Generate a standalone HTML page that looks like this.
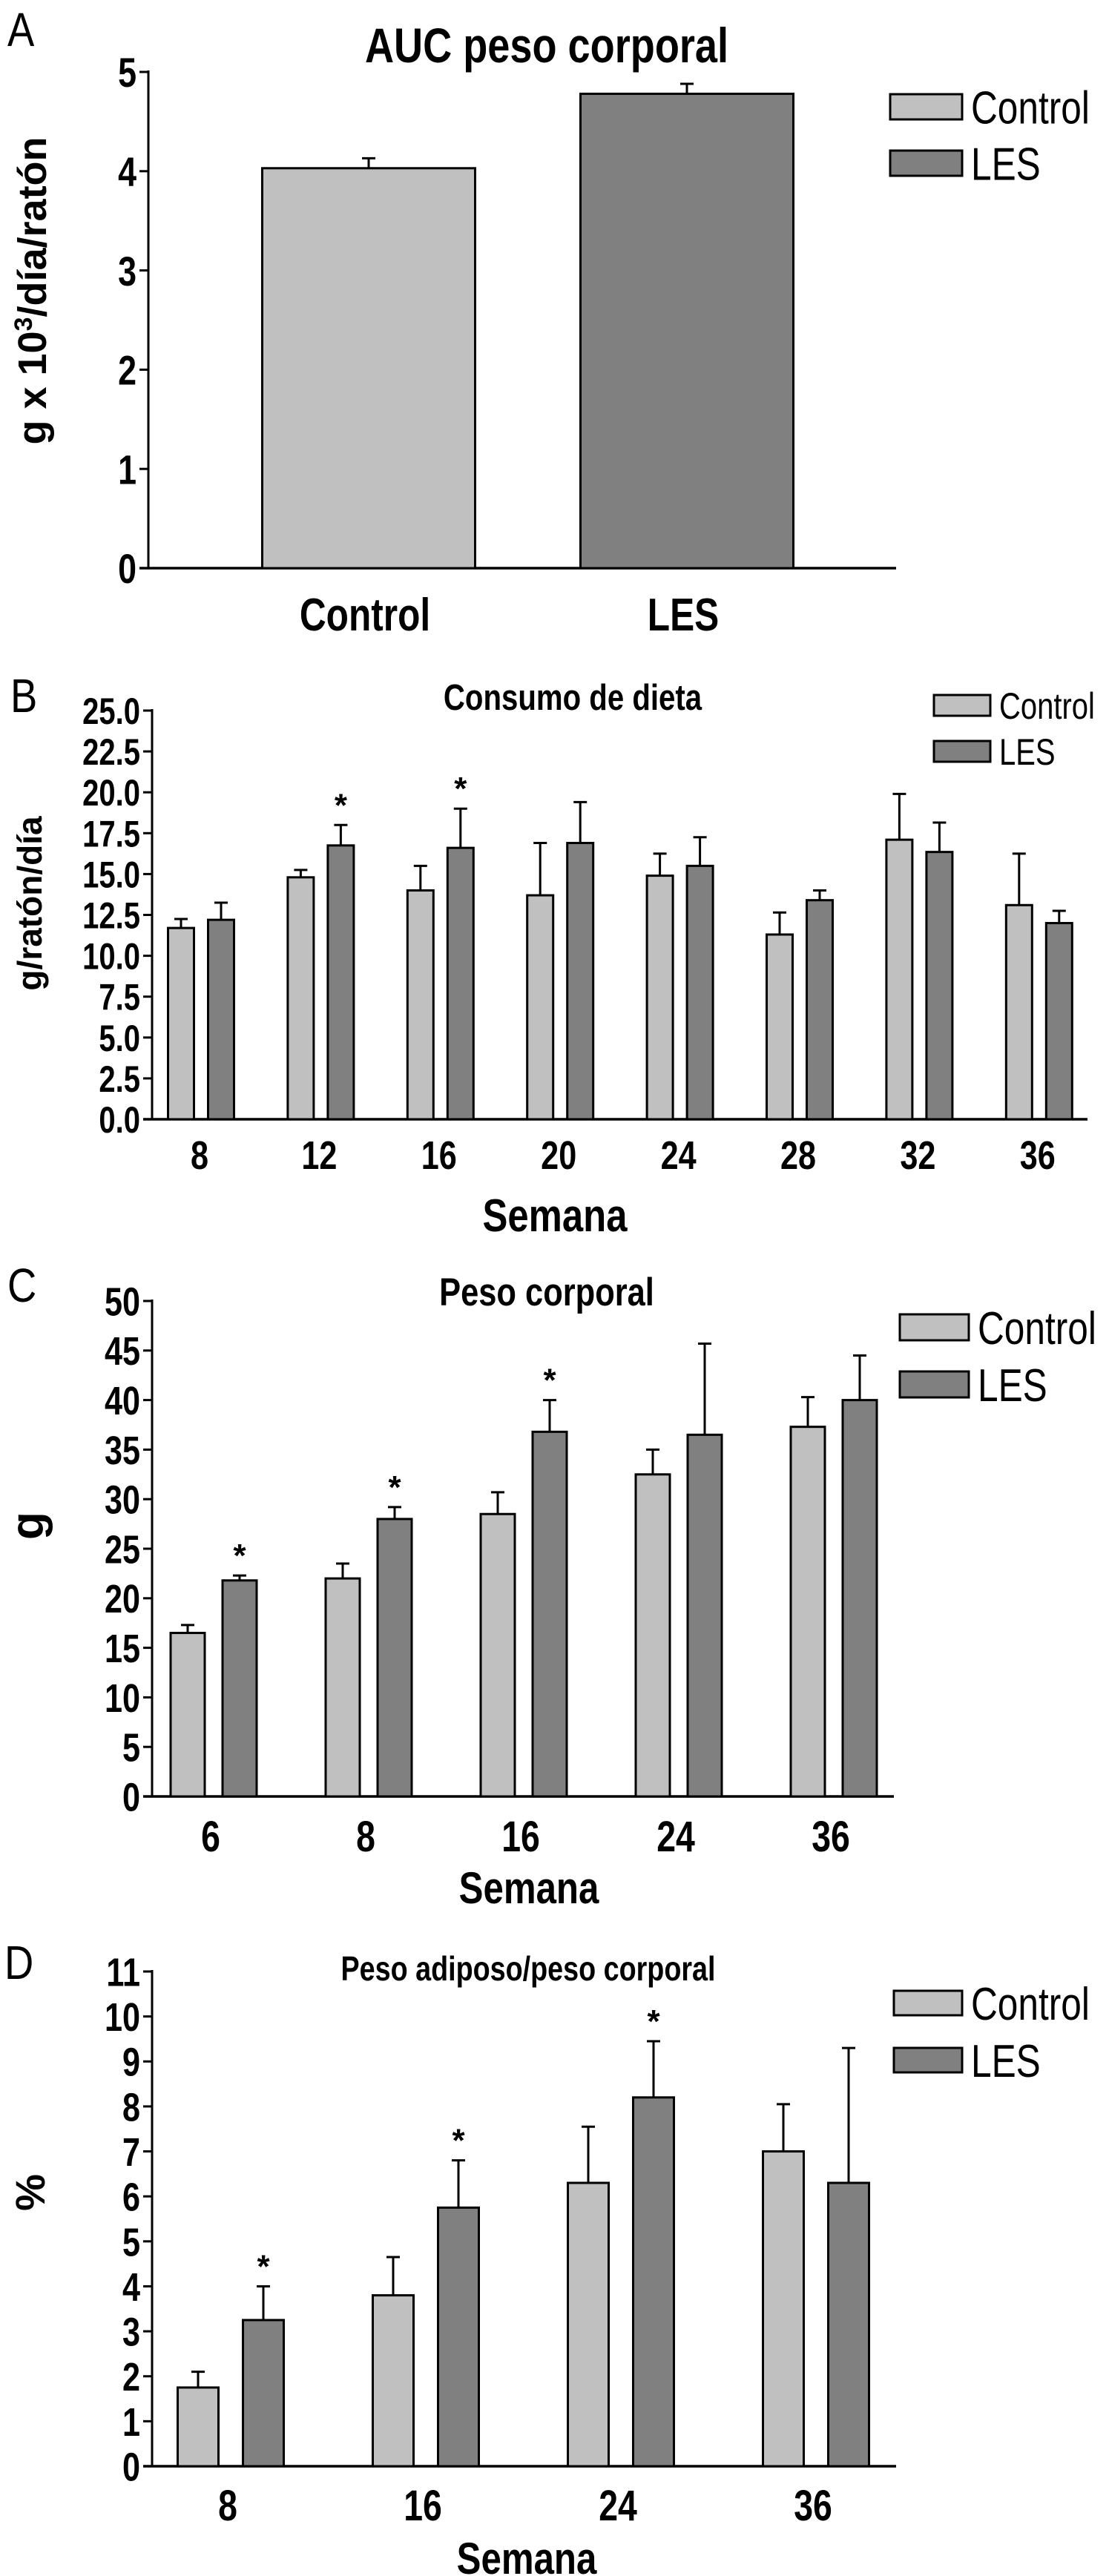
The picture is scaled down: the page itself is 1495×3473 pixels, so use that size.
<!DOCTYPE html>
<html><head><meta charset="utf-8"><style>
html,body{margin:0;padding:0;background:#fff}
svg{display:block}
text{font-family:"Liberation Sans",Arial,sans-serif;fill:#000}
</style></head><body>
<svg id="fig" width="1495" height="3473" viewBox="0 0 1495 3473" xmlns="http://www.w3.org/2000/svg"></svg>
<script>
// Panel A
const aCategories = ["Control", "LES"];
const aValues = [4.03, 4.78];
const aErrTop = [4.13, 4.88];
const aTicks = [0, 1, 2, 3, 4, 5];
// Panel B
const bCategories = ["8", "12", "16", "20", "24", "28", "32", "36"];
const bControl = [11.7, 14.8, 14.0, 13.7, 14.9, 11.3, 17.1, 13.1];
const bControlErr = [12.25, 15.25, 15.5, 16.9, 16.25, 12.65, 19.9, 16.25];
const bLes = [12.2, 16.75, 16.6, 16.9, 15.5, 13.4, 16.35, 12.0];
const bLesErr = [13.25, 18.0, 19.0, 19.4, 17.25, 14.0, 18.15, 12.75];
const bStars = [false, true, true, false, false, false, false, false];
const bTicks = ["0.0","2.5","5.0","7.5","10.0","12.5","15.0","17.5","20.0","22.5","25.0"];
// Panel C
const cCategories = ["6", "8", "16", "24", "36"];
const cControl = [16.5, 22, 28.5, 32.5, 37.3];
const cControlErr = [17.3, 23.5, 30.7, 35, 40.3];
const cLes = [21.8, 28, 36.8, 36.5, 40];
const cLesErr = [22.3, 29.2, 40, 45.7, 44.5];
const cStars = [true, true, true, false, false];
const cTicks = [0,5,10,15,20,25,30,35,40,45,50];
// Panel D
const dCategories = ["8", "16", "24", "36"];
const dControl = [1.75, 3.8, 6.3, 7.0];
const dControlErr = [2.1, 4.65, 7.55, 8.05];
const dLes = [3.25, 5.75, 8.2, 6.3];
const dLesErr = [4.0, 6.8, 9.45, 9.3];
const dStars = [true, true, true, false];
const dTicks = [0,1,2,3,4,5,6,7,8,9,10,11];

const NS = "http://www.w3.org/2000/svg";
const svg = document.getElementById("fig");
const LIGHT = "#c0c0c0", DARK = "#808080";
function mk(tag, attrs, parent) {
  const e = document.createElementNS(NS, tag);
  for (const k in attrs) e.setAttribute(k, attrs[k]);
  (parent || svg).appendChild(e);
  return e;
}
function txt(x, y, s, size, anchor, weight, sx, parent) {
  const t = mk("text", {transform: `translate(${x},${y}) scale(${sx},1)`, "font-size": size, "text-anchor": anchor, "font-weight": weight}, parent);
  t.textContent = s;
  return t;
}
function yScale(v, y0, y1, vmax) { return y0 - (v / vmax) * (y0 - y1); }

function panel(cfg) {
  const g = mk("g", {});
  
  
  const ys = v => yScale(v, cfg.y0, cfg.y1, cfg.vmax);
  const L = txt(cfg.letterX, cfg.letterY, cfg.letter, 64, "start", "normal", 0.85, g);
  
  
  const T = txt(cfg.titleX, cfg.titleY, cfg.title, cfg.titleSize, "middle", "bold", 0.82, g);
  
  
  const ax = mk("line", {x1: cfg.ax, y1: cfg.y1 - 2, x2: cfg.ax, y2: cfg.y0, stroke: "#000", "stroke-width": 3}, g);
  
  
  cfg.ticks.forEach(tk => {
    const v = parseFloat(tk);
    const y = ys(v);
    const tl = mk("line", {x1: cfg.ax - 12, y1: y, x2: cfg.ax, y2: y, stroke: "#000", "stroke-width": 3}, g);
    
    
    const lab = txt(cfg.ax - 16, y + cfg.tickSize * 0.36, String(tk), cfg.tickSize, "end", "bold", 0.8, g);
    
    
  });
  const xa = mk("line", {x1: cfg.ax - 12, y1: cfg.y0, x2: cfg.axEnd, y2: cfg.y0, stroke: "#000", "stroke-width": 3.5}, g);
  
  
  const yl = mk("text", {transform: `translate(${cfg.ylx},${cfg.yly}) rotate(-90)`, "font-size": cfg.ylSize, "text-anchor": "middle", "font-weight": "bold"}, g);
  yl.innerHTML = cfg.ylabel;
  
  
  const series = cfg.series;
  cfg.cats.forEach((c, i) => {
    const gc = cfg.c0 + i * cfg.step;
    series.forEach(s => {
      const cx = gc + s.off;
      const v = s.vals[i], e = s.err[i];
      if (!v) return;
      const yt = ys(v), ye = ys(e);
      const el = mk("line", {x1: cx, y1: ye, x2: cx, y2: yt, stroke: "#000", "stroke-width": 3}, g);
      
      
      const cap = mk("line", {x1: cx - 9, y1: ye, x2: cx + 9, y2: ye, stroke: "#000", "stroke-width": 3}, g);
      
      
      const r = mk("rect", {x: cx - cfg.bw / 2, y: yt, width: cfg.bw, height: cfg.y0 - yt, fill: s.color, stroke: "#000", "stroke-width": 3}, g);
      
      
      if (s.stars && s.stars[i]) {
        const st = txt(cx, ye - 12, "*", 44, "middle", "bold", 1, g);
        
        
      }
    });
    const xl = txt(gc + cfg.labOff, cfg.xlY, c, cfg.xlSize, "middle", "bold", 0.8, g);
    
    
  });
  if (cfg.xtitle) {
    const xt = txt(cfg.xtX, cfg.xtY, cfg.xtitle, cfg.xtSize, "middle", "bold", 0.82, g);
    
    
  }
  const lg = mk("g", {}, g);
  
  
  [["Control", LIGHT, cfg.legY[0]], ["LES", DARK, cfg.legY[1]]].forEach(([n, col, yy]) => {
    const b = mk("rect", {x: cfg.legX, y: yy, width: cfg.legW, height: cfg.legH, fill: col, stroke: "#000", "stroke-width": 3}, lg);
    
    
    const t = txt(cfg.legX + cfg.legW + 12, yy + cfg.legH * 0.5 + cfg.legSize * 0.36, n, cfg.legSize, "start", "normal", 0.8, lg);
    
    
  });
}

// A
panel({name: "panel-a", letter: "A", letterX: 10, letterY: 62, title: "AUC peso corporal", titleX: 737, titleY: 84, titleSize: 66,
  ax: 200, axEnd: 1208, y0: 766, y1: 97, vmax: 5, ticks: aTicks, tickSize: 56,
  ylabel: "g x 10<tspan baseline-shift='super' font-size='34'>3</tspan>/día/ratón", ylx: 62, yly: 392, ylSize: 54,
  cats: aCategories, c0: 497, step: 429, bw: 287, labOff: -5, xlY: 850, xlSize: 62,
  series: [{key: "control", vals: [aValues[0], 0], err: [aErrTop[0], 0], color: LIGHT, off: 0},
           {key: "les", vals: [0, aValues[1]], err: [0, aErrTop[1]], color: DARK, off: 0}],
  legX: 1200, legY: [127, 203], legW: 97, legH: 34, legSize: 62});
// B
panel({name: "panel-b", letter: "B", letterX: 14, letterY: 960, title: "Consumo de dieta", titleX: 772, titleY: 957, titleSize: 49,
  ax: 205, axEnd: 1466, y0: 1509, y1: 958, vmax: 25, ticks: bTicks, tickSize: 50,
  ylabel: "g/ratón/día", ylx: 56, yly: 1218, ylSize: 46,
  cats: bCategories, c0: 271, step: 161.4, bw: 35, labOff: -2, xlY: 1576, xlSize: 54,
  series: [{key: "control", vals: bControl, err: bControlErr, color: LIGHT, off: -27},
           {key: "les", vals: bLes, err: bLesErr, color: DARK, off: 27, stars: bStars}],
  xtitle: "Semana", xtX: 748, xtY: 1660, xtSize: 62,
  legX: 1259, legY: [937, 999], legW: 76, legH: 28, legSize: 50});
// C
panel({name: "panel-c", letter: "C", letterX: 10, letterY: 1755, title: "Peso corporal", titleX: 737, titleY: 1760, titleSize: 53,
  ax: 205, axEnd: 1205, y0: 2422, y1: 1754, vmax: 50, ticks: cTicks, tickSize: 54,
  ylabel: "g", ylx: 58, yly: 2057, ylSize: 62,
  cats: cCategories, c0: 288, step: 209, bw: 46, labOff: -4, xlY: 2496, xlSize: 58,
  series: [{key: "control", vals: cControl, err: cControlErr, color: LIGHT, off: -35},
           {key: "les", vals: cLes, err: cLesErr, color: DARK, off: 35, stars: cStars}],
  xtitle: "Semana", xtX: 713, xtY: 2566, xtSize: 60,
  legX: 1213, legY: [1772, 1849], legW: 93, legH: 35, legSize: 62});
// D
panel({name: "panel-d", letter: "D", letterX: 6, letterY: 2668, title: "Peso adiposo/peso corporal", titleX: 712, titleY: 2670, titleSize: 46,
  ax: 205, axEnd: 1208, y0: 3325, y1: 2658, vmax: 11, ticks: dTicks, tickSize: 54,
  ylabel: "%", ylx: 60, yly: 2956, ylSize: 56,
  cats: dCategories, c0: 311, step: 263, bw: 55, labOff: -4, xlY: 3398, xlSize: 58,
  series: [{key: "control", vals: dControl, err: dControlErr, color: LIGHT, off: -44},
           {key: "les", vals: dLes, err: dLesErr, color: DARK, off: 44, stars: dStars}],
  xtitle: "Semana", xtX: 710, xtY: 3470, xtSize: 60,
  legX: 1205, legY: [2684, 2761], legW: 92, legH: 33, legSize: 62});
</script>
</body></html>
